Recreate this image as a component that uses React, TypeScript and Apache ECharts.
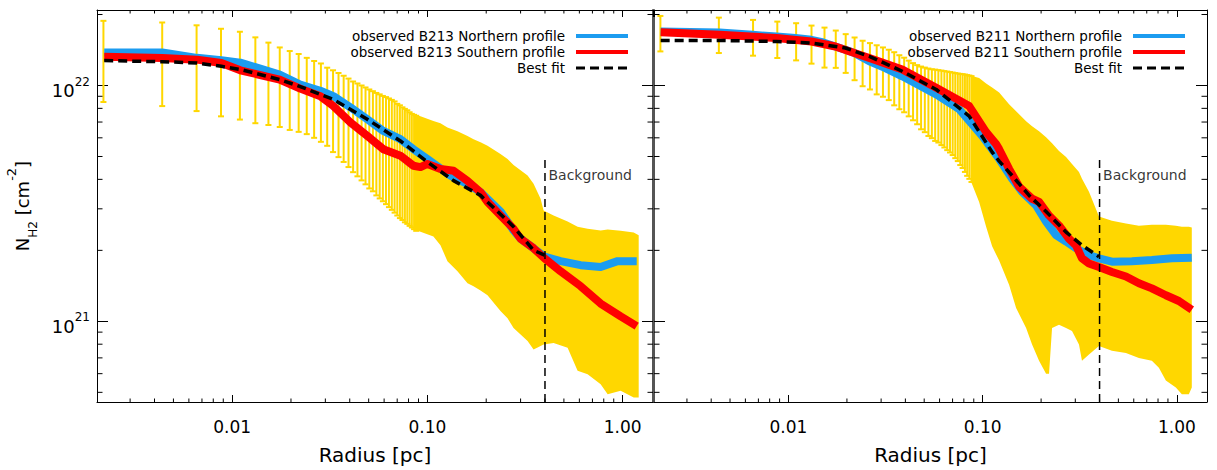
import React, { useEffect, useRef } from "react";
import * as echarts from "echarts";

const FONT = '"DejaVu Sans", "Liberation Sans", sans-serif';
const GOLD = "#FFD700";
const BLUE = "#1C9CF0";
const RED = "#FF0000";

// Column densities below are in units of 1e21 cm^-2
const UNIT = 1e21;
const X_MIN = 0.00203;
const X_MAX = 1.43;
const Y_MIN = 4.55e20;
const Y_MAX = 2.09e22;

const xMinorTicks = [0.003, 0.004, 0.005, 0.006, 0.007, 0.008, 0.009, 0.02, 0.03, 0.04, 0.05, 0.06, 0.07, 0.08, 0.09, 0.2, 0.3, 0.4, 0.5, 0.6, 0.7, 0.8, 0.9];
const yMinorTicks = [5e20, 6e20, 7e20, 8e20, 9e20, 2e21, 3e21, 4e21, 5e21, 6e21, 7e21, 8e21, 9e21, 2e22];

const backgroundRadius = 0.4;
const backgroundTop = 5.02;
const backgroundLabelN = 4.19;

// radii of the individually visible error bars (pc)
const errRadius = [0.00219, 0.00438, 0.00657, 0.00876, 0.01095, 0.01314, 0.01533, 0.01752, 0.01971, 0.0219, 0.02409, 0.02628, 0.02847, 0.03066, 0.03285, 0.03504, 0.03723, 0.03942, 0.04161, 0.0438, 0.04599, 0.04818, 0.05037, 0.05256, 0.05475, 0.05694, 0.05913, 0.06132, 0.06351, 0.0657, 0.06789, 0.07008, 0.07227, 0.07446, 0.07665, 0.07884, 0.08103, 0.08322, 0.08541, 0.0876];

// ---------- B213 ----------
const b213ErrLow = [8.51, 8.18, 7.79, 7.40, 7.17, 6.92, 6.80, 6.67, 6.48, 6.36, 6.22, 6.00, 5.77, 5.55, 5.22, 4.97, 4.74, 4.51, 4.29, 4.12, 3.96, 3.81, 3.66, 3.56, 3.42, 3.32, 3.23, 3.14, 3.05, 2.97, 2.89, 2.81, 2.74, 2.69, 2.63, 2.59, 2.54, 2.50, 2.46, 2.42];
const b213ErrHigh = [18.8, 18.5, 18.0, 17.4, 16.9, 16.0, 15.2, 14.5, 14.0, 13.6, 13.1, 12.7, 12.4, 11.9, 11.6, 11.3, 11.0, 10.7, 10.4, 10.2, 10.0, 9.81, 9.62, 9.46, 9.30, 9.17, 9.03, 8.93, 8.81, 8.69, 8.56, 8.36, 8.24, 8.08, 7.96, 7.85, 7.70, 7.58, 7.51, 7.44];
const b213BandR = [0.0857, 0.0921, 0.1073, 0.1166, 0.1266, 0.1425, 0.1604, 0.1722, 0.1870, 0.2031, 0.2367, 0.2572, 0.2761, 0.3258, 0.3496, 0.3798, 0.3935, 0.4428, 0.5223, 0.5877, 0.6614, 0.7713, 0.8377, 0.9766, 1.139, 1.208];
const b213BandHigh = [7.51, 7.40, 7.07, 6.92, 6.63, 6.40, 6.11, 5.92, 5.75, 5.55, 5.12, 4.88, 4.60, 4.15, 3.83, 3.31, 2.95, 2.81, 2.65, 2.52, 2.47, 2.43, 2.45, 2.42, 2.38, 2.32];
const b213BandLow = [2.46, 2.40, 2.29, 2.10, 1.80, 1.63, 1.45, 1.41, 1.35, 1.29, 1.105, 1.03, 0.937, 0.826, 0.759, 0.787, 0.797, 0.810, 0.772, 0.617, 0.596, 0.541, 0.491, 0.508, 0.475, 0.475];
const b213NorthR = [0.00221, 0.00438, 0.0066, 0.0088, 0.0110, 0.0175, 0.0223, 0.0283, 0.0330, 0.0403, 0.0492, 0.0594, 0.0727, 0.0848, 0.100, 0.131, 0.160, 0.187, 0.237, 0.276, 0.300, 0.350, 0.398, 0.481, 0.609, 0.771, 0.942, 1.18];
const b213NorthN = [13.8, 13.8, 13.1, 12.8, 12.5, 11.13, 10.1, 9.5, 9.01, 8.08, 7.19, 6.42, 5.92, 5.37, 4.88, 4.15, 3.83, 3.53, 2.92, 2.43, 2.24, 2.04, 1.88, 1.80, 1.73, 1.70, 1.80, 1.80];
const b213SouthR = [0.00221, 0.00438, 0.0066, 0.0088, 0.0110, 0.0175, 0.0223, 0.0283, 0.0330, 0.0403, 0.0492, 0.0594, 0.0727, 0.0848, 0.0921, 0.100, 0.1166, 0.136, 0.160, 0.187, 0.203, 0.237, 0.276, 0.300, 0.350, 0.398, 0.481, 0.609, 0.771, 0.977, 1.18];
const b213SouthN = [13.25, 13.08, 12.87, 12.46, 11.6, 10.6, 9.7, 9.0, 8.18, 6.98, 6.11, 5.37, 5.04, 4.57, 4.51, 4.65, 4.43, 4.35, 3.95, 3.53, 3.21, 2.81, 2.47, 2.24, 2.04, 1.85, 1.63, 1.41, 1.19, 1.05, 0.955];
const b213FitR = [0.00221, 0.00438, 0.0066, 0.0088, 0.0110, 0.0175, 0.0223, 0.0330, 0.0492, 0.0727, 0.100, 0.136, 0.187, 0.257, 0.276, 0.350, 0.398];
const b213FitN = [12.75, 12.62, 12.46, 12.06, 11.7, 10.6, 9.9, 8.73, 7.19, 5.82, 4.74, 3.95, 3.42, 2.67, 2.52, 2.00, 1.91];

// ---------- B211 ----------
const b211ErrLow = [13.95, 13.73, 13.38, 13.08, 12.78, 12.38, 11.91, 11.88, 11.31, 10.53, 9.93, 9.62, 9.17, 8.96, 8.67, 8.24, 7.93, 7.70, 7.40, 7.12, 6.85, 6.52, 6.34, 6.11, 5.98, 5.82, 5.73, 5.59, 5.46, 5.32, 5.20, 5.07, 4.92, 4.78, 4.60, 4.47, 4.30, 4.14, 4.02, 3.90];
const b211ErrHigh = [19.72, 19.40, 18.97, 18.66, 18.37, 17.95, 17.60, 17.10, 16.51, 15.98, 15.48, 15.13, 14.81, 14.50, 14.18, 13.84, 13.44, 13.12, 12.75, 12.44, 12.20, 12.03, 11.91, 11.80, 11.72, 11.68, 11.62, 11.57, 11.51, 11.46, 11.40, 11.35, 11.29, 11.24, 11.20, 11.17, 11.13, 11.07, 11.02, 10.96];
const b211BandR = [0.0873, 0.0959, 0.1042, 0.1119, 0.1216, 0.1368, 0.1487, 0.1674, 0.1797, 0.1952, 0.2121, 0.2197, 0.2277, 0.2473, 0.2688, 0.2885, 0.3134, 0.3247, 0.3528, 0.3972, 0.4633, 0.5468, 0.6376, 0.7438, 0.8082, 0.8779, 0.9883, 1.061, 1.153, 1.194];
const b211BandHigh = [10.99, 10.75, 10.19, 9.81, 9.34, 8.32, 7.77, 7.05, 6.72, 6.40, 6.04, 5.86, 5.69, 5.27, 4.97, 4.65, 4.30, 4.02, 3.54, 2.78, 2.67, 2.60, 2.54, 2.57, 2.57, 2.57, 2.54, 2.52, 2.52, 2.50];
const b211BandLow = [3.90, 3.21, 2.52, 2.08, 1.81, 1.43, 1.14, 0.937, 0.797, 0.681, 0.600, 0.600, 0.937, 0.968, 0.937, 0.910, 0.797, 0.681, 0.723, 0.787, 0.750, 0.735, 0.700, 0.681, 0.636, 0.561, 0.524, 0.491, 0.491, 0.524];
const b211NorthR = [0.002197, 0.004418, 0.00653, 0.008677, 0.01086, 0.01313, 0.01513, 0.01744, 0.01964, 0.02184, 0.02609, 0.03115, 0.03855, 0.05766, 0.0757, 0.0994, 0.1216, 0.1418, 0.1596, 0.1884, 0.2121, 0.2387, 0.2688, 0.3024, 0.3528, 0.3972, 0.4633, 0.5869, 0.7438, 0.9426, 1.194];
const b211NorthN = [16.93, 16.77, 16.40, 16.13, 15.89, 15.62, 15.22, 14.64, 14.18, 13.73, 12.66, 11.91, 10.94, 9.17, 7.93, 6.11, 4.88, 4.02, 3.54, 3.10, 2.65, 2.32, 2.18, 2.04, 1.91, 1.85, 1.79, 1.80, 1.82, 1.85, 1.86];
const b211SouthR = [0.002197, 0.004418, 0.008677, 0.01313, 0.01744, 0.02184, 0.02609, 0.03855, 0.05766, 0.08524, 0.1042, 0.1173, 0.1216, 0.1368, 0.1541, 0.1797, 0.1952, 0.2197, 0.2473, 0.2784, 0.3024, 0.3247, 0.3528, 0.3972, 0.4633, 0.5468, 0.6376, 0.7438, 0.8779, 1.024, 1.194];
const b211SouthN = [16.83, 16.40, 15.89, 15.37, 14.64, 13.73, 13.08, 11.68, 9.78, 8.18, 6.34, 5.64, 5.37, 4.43, 3.72, 3.31, 3.21, 2.81, 2.55, 2.24, 2.10, 1.85, 1.76, 1.70, 1.62, 1.55, 1.45, 1.38, 1.29, 1.22, 1.12];
const b211FitR = [0.002197, 0.004418, 0.008677, 0.01313, 0.01964, 0.02609, 0.03855, 0.05766, 0.08524, 0.1119, 0.1216, 0.1418, 0.1734, 0.2121, 0.2688, 0.3247, 0.3972];
const b211FitN = [15.52, 15.52, 15.37, 15.13, 14.42, 13.29, 11.49, 9.62, 7.42, 5.22, 4.78, 4.15, 3.42, 2.92, 2.39, 2.10, 1.88];

const isDecade = (v: number) => {
  const l = Math.log10(v);
  return Math.abs(l - Math.round(l)) < 1e-6;
};

const pairs = (r: number[], n: number[]) => r.map((x, i) => [x, n[i] * UNIT]);

const errorBarRender = (params: any, api: any) => {
  const r = api.value(0);
  const lo = api.coord([r, api.value(1)]);
  const hi = api.coord([r, api.value(2)]);
  const style = { stroke: GOLD, lineWidth: 2 };
  const cap = 3;
  return {
    type: "group",
    children: [
      { type: "line", shape: { x1: lo[0], y1: lo[1], x2: hi[0], y2: hi[1] }, style },
      { type: "line", shape: { x1: lo[0] - cap, y1: lo[1], x2: lo[0] + cap, y2: lo[1] }, style },
      { type: "line", shape: { x1: hi[0] - cap, y1: hi[1], x2: hi[0] + cap, y2: hi[1] }, style },
    ],
  };
};

const bandRender = (bandR: number[], high: number[], low: number[]) => (params: any, api: any) => {
  const up = bandR.map((r, i) => api.coord([r, high[i] * UNIT]));
  const dn = bandR.map((r, i) => api.coord([r, low[i] * UNIT])).reverse();
  return { type: "polygon", shape: { points: up.concat(dn) }, style: { fill: GOLD } };
};

const tickRender = (params: any, api: any) => {
  const children: any[] = [];
  const st = { stroke: "#000", lineWidth: 1 };
  xMinorTicks.forEach((v) => {
    const b = api.coord([v, Y_MIN]);
    const t = api.coord([v, Y_MAX]);
    children.push({ type: "line", shape: { x1: b[0], y1: b[1], x2: b[0], y2: b[1] - 3.5 }, style: st });
    children.push({ type: "line", shape: { x1: t[0], y1: t[1], x2: t[0], y2: t[1] + 3.5 }, style: st });
  });
  yMinorTicks.forEach((v) => {
    const l = api.coord([X_MIN, v]);
    const r = api.coord([X_MAX, v]);
    children.push({ type: "line", shape: { x1: l[0], y1: l[1], x2: l[0] + 5.5, y2: l[1] }, style: st });
    children.push({ type: "line", shape: { x1: r[0], y1: r[1], x2: r[0] - 5.5, y2: r[1] }, style: st });
  });
  return { type: "group", children };
};

function panelSeries(p: number, d: any) {
  const xi = p * 2;
  const yi = p * 2;
  const common = { xAxisIndex: xi, yAxisIndex: yi, silent: true, animation: false };
  return [
    {
      ...common,
      type: "custom",
      name: d.errName,
      z: 1,
      data: errRadius.map((r, i) => [r, d.errLow[i] * UNIT, d.errHigh[i] * UNIT]),
      encode: { x: 0, y: [1, 2] },
      renderItem: errorBarRender,
    },
    {
      ...common,
      type: "custom",
      name: d.bandName,
      z: 1,
      data: [[d.bandR[0], d.bandLow[0] * UNIT]],
      encode: { x: 0, y: 1 },
      renderItem: bandRender(d.bandR, d.bandHigh, d.bandLow),
    },
    {
      ...common,
      type: "line",
      name: d.northName,
      z: 2,
      symbol: "none",
      data: pairs(d.northR, d.northN),
      itemStyle: { color: BLUE },
      lineStyle: { color: BLUE, width: 8, join: "round" },
    },
    {
      ...common,
      type: "line",
      name: d.southName,
      z: 3,
      symbol: "none",
      data: pairs(d.southR, d.southN),
      itemStyle: { color: RED },
      lineStyle: { color: RED, width: 8, join: "round" },
    },
    {
      ...common,
      type: "line",
      name: "Best fit",
      z: 4,
      symbol: "none",
      data: pairs(d.fitR, d.fitN),
      itemStyle: { color: "#000" },
      lineStyle: { color: "#000", width: 3.5, type: [9, 5] },
    },
    {
      ...common,
      type: "line",
      name: "Background limit",
      z: 5,
      symbol: "none",
      data: [[backgroundRadius, Y_MIN], [backgroundRadius, backgroundTop * UNIT]],
      lineStyle: { color: "#000", width: 1.5, type: [8, 5] },
    },
    {
      ...common,
      type: "scatter",
      name: "Background label",
      z: 5,
      symbolSize: 1,
      itemStyle: { color: "rgba(0,0,0,0)" },
      data: [[backgroundRadius, backgroundLabelN * UNIT]],
      label: {
        show: true,
        position: "right",
        distance: 3,
        formatter: "Background",
        color: "#000",
        fontSize: 14,
        fontFamily: FONT,
      },
    },
    {
      ...common,
      type: "custom",
      name: "minor ticks",
      z: 10,
      data: [[X_MIN, Y_MIN]],
      encode: { x: 0, y: 1 },
      renderItem: tickRender,
    },
  ];
}

const xAxisBase = {
  type: "log",
  logBase: 10,
  min: X_MIN,
  max: X_MAX,
  splitLine: { show: false },
  axisLine: { show: true, onZero: false, lineStyle: { color: "#000", width: 1 } },
  axisTick: { show: true, inside: true, length: 7, lineStyle: { color: "#000", width: 1 } },
};

const xBottom = (g: number) => ({
  ...xAxisBase,
  gridIndex: g,
  position: "bottom",
  axisLabel: {
    formatter: (v: number) => (isDecade(v) ? v.toFixed(2) : ""),
    showMinLabel: false,
    showMaxLabel: false,
    color: "#000",
    fontSize: 17,
    fontFamily: FONT,
    margin: 16,
  },
  name: "Radius [pc]",
  nameLocation: "middle",
  nameGap: 43,
  nameTextStyle: { color: "#000", fontSize: 20, fontFamily: FONT },
});

const xTop = (g: number) => ({
  ...xAxisBase,
  gridIndex: g,
  position: "top",
  axisLabel: { show: false },
});

const yAxisBase = {
  type: "log",
  logBase: 10,
  min: Y_MIN,
  max: Y_MAX,
  splitLine: { show: false },
  axisTick: { show: true, inside: true, length: 11, lineStyle: { color: "#000", width: 1 } },
};

const legendItem = (name: string, width: number) => ({
  name,
  lineStyle: { width },
  itemStyle: { opacity: 0 },
});

const legendBase = {
  orient: "vertical",
  top: 29,
  padding: 0,
  align: "right",
  itemWidth: 52,
  itemHeight: 14,
  itemGap: 2,
  selectedMode: false,
  textStyle: { color: "#000", fontSize: 13.5, fontFamily: FONT, padding: [0, 6, 0, 0] },
};

const App = () => {
  const ref = useRef<HTMLDivElement>(null);
  useEffect(() => {
    if (!ref.current) return;
    const chart = echarts.init(ref.current, null, { renderer: "svg" });
    const option: any = {
      animation: false,
      backgroundColor: "#fff",
      textStyle: { fontFamily: FONT },
      grid: [
        { left: 97, top: 10, width: 556, height: 394 },
        { left: 654, top: 10, width: 553, height: 394 },
      ],
      legend: [
        {
          ...legendBase,
          right: 587,
          data: [
            legendItem("observed B213 Northern profile", 4),
            legendItem("observed B213 Southern profile", 4),
            legendItem("Best fit", 3),
          ],
        },
        {
          ...legendBase,
          right: 30,
          data: [
            legendItem("observed B211 Northern profile", 4),
            legendItem("observed B211 Southern profile", 4),
            legendItem("Best fit", 3),
          ],
        },
      ],
      xAxis: [xBottom(0), xTop(0), xBottom(1), xTop(1)],
      yAxis: [
        {
          ...yAxisBase,
          gridIndex: 0,
          position: "left",
          axisLine: { show: true, onZero: false, lineStyle: { color: "#000", width: 1 } },
          axisLabel: {
            formatter: (v: number) => (isDecade(v) ? `{b|10}{s|${Math.round(Math.log10(v))}}` : ""),
            showMinLabel: false,
            showMaxLabel: false,
            margin: 7,
            padding: [4, 0, 0, 0],
            rich: {
              b: { fontSize: 18, lineHeight: 24, verticalAlign: "bottom", color: "#000", fontFamily: FONT },
              s: { fontSize: 12, lineHeight: 12, verticalAlign: "top", color: "#000", fontFamily: FONT },
            },
          },
          name: "{n|N}{sub|H2}{n| [cm}{sup|-2}{n|]}",
          nameLocation: "middle",
          nameRotate: 90,
          nameGap: 58,
          nameTextStyle: {
            color: "#000",
            fontFamily: FONT,
            rich: {
              n: { fontSize: 18, lineHeight: 34, color: "#000", fontFamily: FONT },
              sub: { fontSize: 12, lineHeight: 12, verticalAlign: "bottom", color: "#000", fontFamily: FONT },
              sup: { fontSize: 13, lineHeight: 13, verticalAlign: "top", color: "#000", fontFamily: FONT },
            },
          },
        },
        {
          ...yAxisBase,
          gridIndex: 0,
          position: "right",
          axisLine: { show: true, onZero: false, lineStyle: { color: "#555", width: 2 } },
          axisLabel: { show: false },
        },
        {
          ...yAxisBase,
          gridIndex: 1,
          position: "left",
          axisLine: { show: true, onZero: false, lineStyle: { color: "#555", width: 2 } },
          axisLabel: { show: false },
        },
        {
          ...yAxisBase,
          gridIndex: 1,
          position: "right",
          axisLine: { show: true, onZero: false, lineStyle: { color: "#000", width: 1 } },
          axisLabel: { show: false },
        },
      ],
      series: [
        ...panelSeries(0, {
          errName: "B213 error bars",
          bandName: "B213 error band",
          northName: "observed B213 Northern profile",
          southName: "observed B213 Southern profile",
          errLow: b213ErrLow,
          errHigh: b213ErrHigh,
          bandR: b213BandR,
          bandHigh: b213BandHigh,
          bandLow: b213BandLow,
          northR: b213NorthR,
          northN: b213NorthN,
          southR: b213SouthR,
          southN: b213SouthN,
          fitR: b213FitR,
          fitN: b213FitN,
        }),
        ...panelSeries(1, {
          errName: "B211 error bars",
          bandName: "B211 error band",
          northName: "observed B211 Northern profile",
          southName: "observed B211 Southern profile",
          errLow: b211ErrLow,
          errHigh: b211ErrHigh,
          bandR: b211BandR,
          bandHigh: b211BandHigh,
          bandLow: b211BandLow,
          northR: b211NorthR,
          northN: b211NorthN,
          southR: b211SouthR,
          southN: b211SouthN,
          fitR: b211FitR,
          fitN: b211FitN,
        }),
      ],
    };
    chart.setOption(option);
    return () => chart.dispose();
  }, []);
  return (
    <div
      ref={ref}
      style={{ position: "absolute", left: 0, top: 0, width: 1217, height: 470, background: "#fff" }}
    />
  );
};

export default App;
